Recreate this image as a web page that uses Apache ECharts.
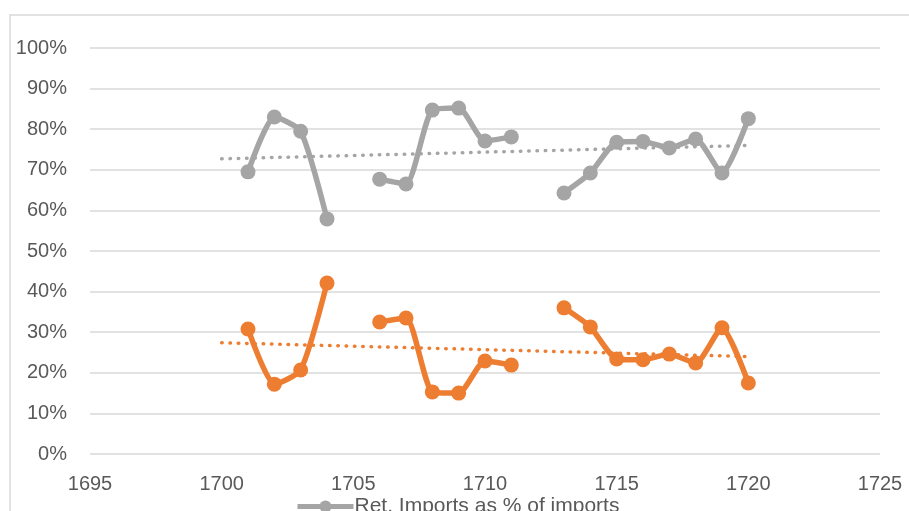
<!DOCTYPE html>
<html>
<head>
<meta charset="utf-8">
<script src="https://cdn.jsdelivr.net/npm/echarts@6/dist/echarts.min.js"></script>
<style>
  html, body { margin: 0; padding: 0; background: #fff; }
  #chart { width: 909px; height: 511px; }
</style>
</head>
<body>
<div id="chart"></div>
<script>
// Years and shares (%); '-' marks years with no record
const years = [1701, 1702, 1703, 1704, 1705, 1706, 1707, 1708, 1709, 1710, 1711, 1712, 1713, 1714, 1715, 1716, 1717, 1718, 1719, 1720];
const retImports = [69.5, 83.0, 79.5, 57.9, '-', 67.7, 66.5, 84.7, 85.2, 77.1, 78.1, '-', 64.3, 69.2, 76.8, 77.0, 75.4, 77.6, 69.2, 82.6];
const homeUse = [30.8, 17.2, 20.7, 42.1, '-', 32.5, 33.5, 15.3, 15.0, 22.9, 21.9, '-', 36.0, 31.3, 23.4, 23.2, 24.6, 22.4, 31.1, 17.5];
// Linear trend end points
const trendYears = [1700, 1720];
const retTrend = [72.7, 76.0];
const homeTrend = [27.4, 24.0];
const xTicks = { min: 1695, max: 1725, step: 5 };

const GRAY = '#a5a5a5';
const ORANGE = '#ed7d31';
const FONT = 'Liberation Sans';
const pair = (xs, ys) => xs.map((x, i) => [x, ys[i]]);

const chart = echarts.init(document.getElementById('chart'));
chart.setOption({
  animation: false,
  graphic: [{
    type: 'rect',
    shape: { x: 10, y: 15, width: 1000, height: 600 },
    style: { fill: 'none', stroke: '#d9d9d9', lineWidth: 1.5 },
    silent: true
  }],
  grid: { left: 90, right: 29, top: 48, bottom: 57 },
  legend: {
    left: 290,
    top: 491,
    itemWidth: 56,
    itemHeight: 15,
    lineStyle: { width: 5 },
    textStyle: { fontFamily: FONT, fontSize: 21, color: '#595959', padding: [0, 0, 0, -4] },
    data: ['Ret. Imports as % of imports']
  },
  xAxis: {
    type: 'value',
    min: xTicks.min,
    max: xTicks.max,
    interval: xTicks.step,
    axisLine: { show: false },
    axisTick: { show: false },
    splitLine: { show: false },
    axisLabel: {
      color: '#595959', fontFamily: FONT, fontSize: 20, margin: 20,
      formatter: v => String(v)
    }
  },
  yAxis: {
    type: 'value',
    min: 0,
    max: 100,
    interval: 10,
    axisLine: { show: false },
    axisTick: { show: false },
    splitLine: { lineStyle: { color: '#d9d9d9', width: 1.5 } },
    axisLabel: {
      color: '#595959', fontFamily: FONT, fontSize: 20, margin: 23,
      formatter: '{value}%'
    }
  },
  series: [
    {
      name: 'Home use as % of imports',
      type: 'line',
      data: pair(years, homeUse),
      smooth: 0.2,
      connectNulls: false,
      symbol: 'circle',
      symbolSize: 15,
      itemStyle: { color: ORANGE },
      lineStyle: { color: ORANGE, width: 5.5 },
      z: 3
    },
    {
      name: 'Ret. Imports as % of imports',
      type: 'line',
      data: pair(years, retImports),
      smooth: 0.2,
      connectNulls: false,
      symbol: 'circle',
      symbolSize: 15,
      itemStyle: { color: GRAY },
      lineStyle: { color: GRAY, width: 5.5 },
      z: 3
    },
    {
      name: 'ret-trend',
      type: 'line',
      data: pair(trendYears, retTrend),
      symbol: 'none',
      silent: true,
      lineStyle: { color: GRAY, width: 3.5, type: [0.5, 7.8], cap: 'round' },
      z: 2
    },
    {
      name: 'home-trend',
      type: 'line',
      data: pair(trendYears, homeTrend),
      symbol: 'none',
      silent: true,
      lineStyle: { color: ORANGE, width: 3.5, type: [0.5, 7.8], cap: 'round' },
      z: 2
    }
  ]
});
</script>
</body>
</html>
